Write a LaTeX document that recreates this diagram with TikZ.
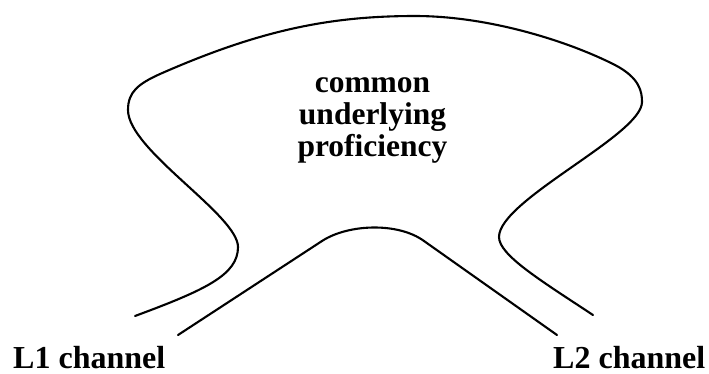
\documentclass[tikz,border=0pt]{standalone}
\usepackage{fontspec}
\setmainfont{Liberation Serif}
\begin{document}
\begin{tikzpicture}[x=1pt,y=-1pt,
  outline/.style={line width=2.1pt,line cap=round,line join=round},
  bigtext/.style={font=\fontsize{31.5}{32}\selectfont\bfseries,inner sep=0pt,anchor=base},
  labeltext/.style={font=\fontsize{32}{32}\selectfont\bfseries,inner sep=0pt,anchor=base west}]
\useasboundingbox (0,0) rectangle (709,373);
% outer contour
\draw[outline] (135,316)
  .. controls (205,290) and (238,275) .. (238,247)
  .. controls (238,215) and (128,150) .. (128,110)
  .. controls (128,92) and (138,84) .. (160,74)
  .. controls (260,30) and (330,16) .. (415,16)
  .. controls (490,16) and (570,42) .. (615,65)
  .. controls (640,78) and (642,92) .. (642,102)
  .. controls (642,135) and (499,200) .. (499,237)
  .. controls (499,255) and (540,280) .. (593,315);
% inner contour
\draw[outline] (178,335) -- (322,241)
  .. controls (348,224) and (398,222) .. (424,241) -- (557,335);
% texts
\node[bigtext] (t1) at (372.5,92) {common};
\node[bigtext] (t2) at (372.5,124) {underlying};
\node[bigtext] (t3) at (372.5,156) {proficiency};
\node[labeltext] (l1) at (13,368) {L1 channel};
\node[labeltext] (l2) at (553,368) {L2 channel};
\end{tikzpicture}
\end{document}
